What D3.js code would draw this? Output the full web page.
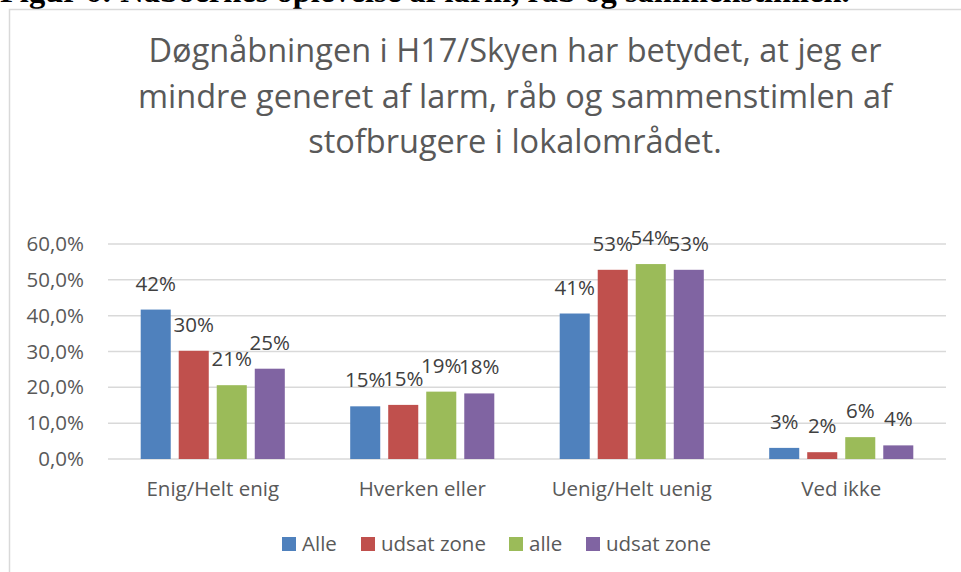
<!DOCTYPE html>
<html>
<head>
<meta charset="utf-8">
<script src="https://cdn.jsdelivr.net/npm/d3@7"></script>
<style>
  body { margin: 0; background: #fff; overflow: hidden; }
  svg { display: block; }
</style>
</head>
<body>
<script>
// Data
var categories = ["Enig/Helt enig", "Hverken eller", "Uenig/Helt uenig", "Ved ikke"];
var seriesNames = ["Alle", "udsat zone", "alle", "udsat zone"];
var seriesColors = ["#4F81BD", "#C0504D", "#9BBB59", "#8064A2"];
var alleValues = [0.417, 0.147, 0.406, 0.031];
var udsatValues = [0.302, 0.151, 0.528, 0.019];
var alle2Values = [0.206, 0.188, 0.544, 0.061];
var udsat2Values = [0.252, 0.183, 0.528, 0.038];
var yTicks = [0, 0.1, 0.2, 0.3, 0.4, 0.5, 0.6];

var seriesValues = [alleValues, udsatValues, alle2Values, udsat2Values];

// SVG area
var svgWidth = 961;
var svgHeight = 572;

var plot = { left: 108, right: 946, top: 244, bottom: 459 };

var svg = d3.select("body")
            .append("svg")
            .attr("width", svgWidth)
            .attr("height", svgHeight);

var font = "'Open Sans', sans-serif";

// caption from the document, cut off at the top
svg.append("text")
   .attr("x", 0)
   .attr("y", 2)
   .style("font-family", "'Liberation Serif', 'Times New Roman', serif")
   .style("font-weight", "bold")
   .style("font-size", "32.5px")
   .style("fill", "#000")
   .text("Figur 6: Naboernes oplevelse af larm, råb og sammenstimlen.");

// chart frame
svg.append("rect")
   .attr("x", 9.5)
   .attr("y", 9.5)
   .attr("width", 1000)
   .attr("height", 600)
   .style("fill", "#fff")
   .style("stroke", "#d9d9d9")
   .style("stroke-width", 1.5);

// title
var titleLines = [
  "Døgnåbningen i H17/Skyen har betydet, at jeg er",
  "mindre generet af larm, råb og sammenstimlen af",
  "stofbrugere i lokalområdet."
];
svg.append("text")
   .attr("text-anchor", "middle")
   .style("font-family", font)
   .style("font-size", "32.5px")
   .style("fill", "#595959")
   .selectAll("tspan")
   .data(titleLines)
   .enter()
   .append("tspan")
   .attr("x", 515)
   .attr("y", function(d, i) { return 62 + i * 45.5; })
   .text(function(d) { return d; });

// scales
var x0 = d3.scaleBand()
           .domain(categories)
           .range([plot.left, plot.right]);

var x1 = d3.scaleBand()
           .domain(d3.range(seriesNames.length))
           .range([0, x0.bandwidth()])
           .paddingInner(0.21)
           .paddingOuter(0.86);

var y = d3.scaleLinear()
          .domain([0, 0.6])
          .range([plot.bottom, plot.top]);

var locale = d3.formatLocale({ decimal: ",", thousands: ".", grouping: [3], currency: ["", " kr."] });
var tickFmt = locale.format(".1%");
var labelFmt = locale.format(".0%");

// gridlines
svg.append("g")
   .selectAll("line")
   .data(yTicks)
   .enter()
   .append("line")
   .attr("x1", plot.left)
   .attr("x2", plot.right)
   .attr("y1", function(d) { return y(d); })
   .attr("y2", function(d) { return y(d); })
   .style("stroke", "#d9d9d9")
   .style("stroke-width", 1.5);

// y axis labels
var yAxis = svg.append("g")
               .attr("transform", "translate(" + (plot.left - 6) + ",0)")
               .call(d3.axisLeft(y).tickValues(yTicks).tickFormat(tickFmt).tickSize(0).tickPadding(18));
yAxis.select(".domain").remove();
yAxis.selectAll("text")
     .style("font-family", font)
     .style("font-size", "20.5px")
     .style("fill", "#595959");

// x axis labels
var xAxis = svg.append("g")
               .attr("transform", "translate(0," + plot.bottom + ")")
               .call(d3.axisBottom(x0).tickSize(0).tickPadding(22));
xAxis.select(".domain").remove();
xAxis.selectAll("text")
     .style("font-family", font)
     .style("font-size", "20.5px")
     .style("fill", "#595959");

// bars
var rows = [];
categories.forEach(function(c, ci) {
  seriesValues.forEach(function(vals, si) {
    rows.push({ cat: c, s: si, value: vals[ci] });
  });
});

var bars = svg.append("g")
              .selectAll("g")
              .data(rows)
              .enter()
              .append("g");

bars.append("rect")
    .attr("x", function(d) { return x0(d.cat) + x1(d.s); })
    .attr("y", function(d) { return y(d.value); })
    .attr("width", x1.bandwidth())
    .attr("height", function(d) { return y(0) - y(d.value); })
    .style("fill", function(d) { return seriesColors[d.s]; });

// data labels
bars.append("text")
    .attr("x", function(d) { return x0(d.cat) + x1(d.s) + x1.bandwidth() / 2; })
    .attr("y", function(d) { return y(d.value) - 19; })
    .attr("text-anchor", "middle")
    .style("font-family", font)
    .style("font-size", "20.5px")
    .style("fill", "#404040")
    .text(function(d) { return labelFmt(d.value); });

// legend
var legendX = [282, 361, 509, 586];
var legend = svg.append("g")
                .selectAll("g")
                .data(seriesNames)
                .enter()
                .append("g")
                .attr("transform", function(d, i) { return "translate(" + legendX[i] + ",537)"; });

legend.append("rect")
      .attr("width", 14)
      .attr("height", 14)
      .style("fill", function(d, i) { return seriesColors[i]; });

legend.append("text")
      .attr("x", 20)
      .attr("y", 14)
      .style("font-family", font)
      .style("font-size", "20.5px")
      .style("fill", "#595959")
      .text(function(d) { return d; });
</script>
</body>
</html>
